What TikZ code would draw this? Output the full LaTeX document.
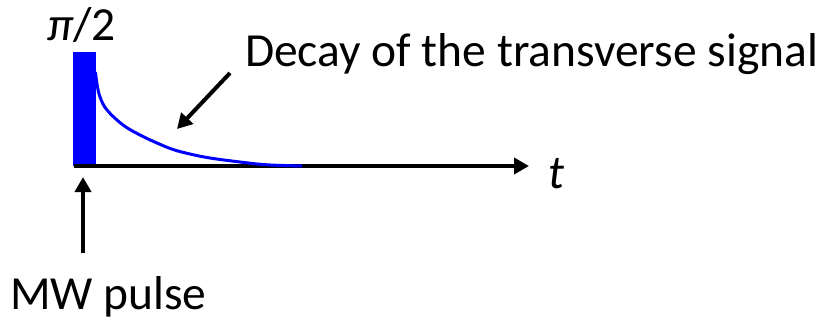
\documentclass[tikz,border=0pt]{standalone}
\usepackage{fontspec}
\setmainfont{Carlito}
\usetikzlibrary{arrows.meta}
\definecolor{pulseblue}{RGB}{0,0,255}
\tikzset{
  lbl/.style={inner sep=0pt, outer sep=0pt, font=\fontsize{47.5}{52}\selectfont},
  blackarrow/.style={line width=4pt, -{Triangle[length=15pt,width=16pt]}},
}
\begin{document}
\begin{tikzpicture}[x=1pt,y=-1pt]
\useasboundingbox (0,0) rectangle (829,322);
% MW pulse block
\fill[pulseblue] (73,52) rectangle (96,166);
% time axis
\coordinate (ax0) at (74,166);
\coordinate (ax1) at (529,166);
\draw[blackarrow] (ax0) -- (ax1);
% decay curve
\draw[pulseblue, line width=3pt, line cap=butt]
  plot[smooth, tension=0.6] coordinates {(95.5,72) (97,84) (100,97) (107,110) (123,125) (140,135) (157,143) (173,149.5) (190,154) (210,158) (240,162) (267,164.8) (302,166)};
% labels
\node[lbl, anchor=base west] (pi) at (47,40) {\textit{π}/2};
\node[lbl, anchor=base west] (decay) at (245,66) {Decay of the transverse signal};
\node[lbl, anchor=base west] (t) at (548,188) {\textit{t}};
\node[lbl, anchor=base west] (mw) at (10,309) {MW pulse};
% arrows
\coordinate (d0) at (230,73);
\coordinate (d1) at (177,129);
\draw[blackarrow] (d0) -- (d1);
\coordinate (m0) at (83,253);
\coordinate (m1) at (83,177);
\draw[blackarrow] (m0) -- (m1);
\end{tikzpicture}
\end{document}
